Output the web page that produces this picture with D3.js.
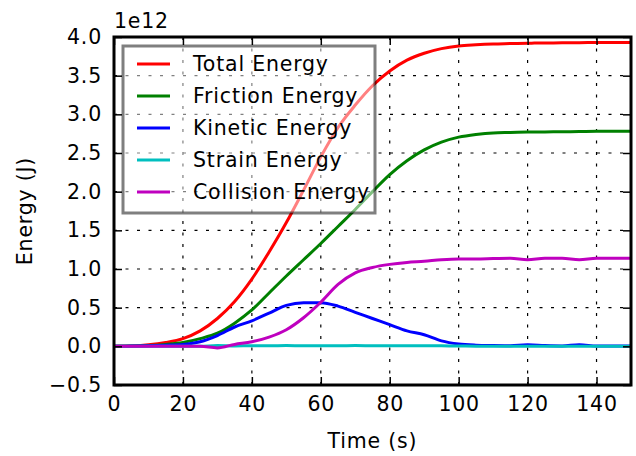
<!DOCTYPE html>
<html>
<head>
<meta charset="utf-8">
<script src="https://cdn.jsdelivr.net/npm/d3@7"></script>
<style>
  body { margin: 0; background: #fff; }
  svg { font-family: "DejaVu Sans", sans-serif; }
  .lbl { font-size: 20.5px; letter-spacing: 0.8px; }
</style>
</head>
<body>
<div id="chart-area"></div>
<script>
// dados (energia em 1e12 J)
const time = [0, 5, 10, 15, 20, 25, 30, 35, 40, 45, 50, 55, 60, 65, 70, 75, 80, 85, 90, 95, 100, 105, 110, 115, 120, 125, 130, 135, 140, 145, 150]
const totalEnergy = [0, 0.005, 0.02, 0.05, 0.1, 0.2, 0.36, 0.58, 0.87, 1.22, 1.6, 2.02, 2.45, 2.83, 3.12, 3.37, 3.56, 3.7, 3.79, 3.85, 3.885, 3.9, 3.91, 3.915, 3.92, 3.922, 3.925, 3.927, 3.928, 3.93, 3.93]
const frictionEnergy = [0, 0.003, 0.01, 0.025, 0.05, 0.1, 0.17, 0.3, 0.47, 0.69, 0.91, 1.12, 1.33, 1.55, 1.77, 2.0, 2.22, 2.4, 2.54, 2.64, 2.705, 2.74, 2.76, 2.765, 2.77, 2.772, 2.775, 2.777, 2.78, 2.78, 2.78]
const kineticEnergy = [0, 0.003, 0.008, 0.015, 0.025, 0.06, 0.14, 0.25, 0.33, 0.43, 0.53, 0.565, 0.565, 0.52, 0.44, 0.36, 0.28, 0.2, 0.15, 0.07, 0.03, 0.015, 0.01, 0.008, 0.02, 0.01, 0.005, 0.02, 0.005, 0.003, 0.003]
const strainEnergy = [0, 0, 0, 0, 0, 0, 0.01, 0.005, 0.008, 0.006, 0.01, 0.006, 0.009, 0.007, 0.01, 0.008, 0.006, 0.009, 0.007, 0.006, 0.004, 0.002, 0.002, 0.002, 0.002, 0.002, 0.002, 0.002, 0.002, 0.002, 0.002]
const collisionEnergy = [0, 0, 0, 0, 0, 0, -0.02, 0.025, 0.06, 0.12, 0.215, 0.37, 0.57, 0.8, 0.95, 1.02, 1.06, 1.085, 1.1, 1.12, 1.13, 1.13, 1.135, 1.14, 1.12, 1.14, 1.14, 1.12, 1.14, 1.14, 1.14]

const seriesNames = ["Total Energy", "Friction Energy", "Kinetic Energy", "Strain Energy", "Collision Energy"]
const seriesValues = [totalEnergy, frictionEnergy, kineticEnergy, strainEnergy, collisionEnergy]
const seriesColors = ["#ff0000", "#008000", "#0000ff", "#00bfbf", "#bf00bf"]

const xTicks = [0, 20, 40, 60, 80, 100, 120, 140]
const yTicks = [-0.5, 0, 0.5, 1.0, 1.5, 2.0, 2.5, 3.0, 3.5, 4.0]

const W = 636, H = 456
const MARGIN = { LEFT: 114, RIGHT: 5, TOP: 37, BOTTOM: 71 }
const WIDTH = W - MARGIN.LEFT - MARGIN.RIGHT
const HEIGHT = H - MARGIN.TOP - MARGIN.BOTTOM

const svg = d3.select("#chart-area").append("svg")
  .attr("width", W)
  .attr("height", H)

const g = svg.append("g")
  .attr("transform", `translate(${MARGIN.LEFT}, ${MARGIN.TOP})`)

const x = d3.scaleLinear().domain([0, 150]).range([0, WIDTH])
const y = d3.scaleLinear().domain([-0.5, 4.0]).range([HEIGHT, 0])

// grade pontilhada
g.append("g").selectAll("line").data(xTicks.slice(1)).enter().append("line")
  .attr("x1", d => x(d)).attr("x2", d => x(d))
  .attr("y1", 0).attr("y2", HEIGHT)
  .attr("stroke", "#000").attr("stroke-width", 1.2).attr("stroke-dasharray", "3,8.5")
g.append("g").selectAll("line").data(yTicks.slice(1, -1)).enter().append("line")
  .attr("y1", d => y(d)).attr("y2", d => y(d))
  .attr("x1", 0).attr("x2", WIDTH)
  .attr("stroke", "#000").attr("stroke-width", 1.2).attr("stroke-dasharray", "3,8.5")

// linhas
const line = d3.line()
  .x((d, i) => x(time[i]))
  .y(d => y(d))
  .curve(d3.curveMonotoneX)

seriesValues.forEach((vals, k) => {
  g.append("path")
    .datum(vals)
    .attr("fill", "none")
    .attr("stroke", seriesColors[k])
    .attr("stroke-width", 3)
    .attr("stroke-linejoin", "round")
    .attr("d", line)
})

// eixos com ticks para dentro
const fmt = d3.format(".1f")
const xAxis = g.append("g")
  .attr("transform", `translate(0, ${HEIGHT})`)
  .call(d3.axisBottom(x).tickValues(xTicks).tickSize(-8).tickPadding(11).tickFormat(d3.format("d")))
const yAxis = g.append("g")
  .call(d3.axisLeft(y).tickValues(yTicks).tickSize(-8).tickPadding(12).tickFormat(fmt))
const xTop = g.append("g")
  .call(d3.axisTop(x).tickValues(xTicks).tickSize(-8).tickFormat(""))
const yRight = g.append("g")
  .attr("transform", `translate(${WIDTH}, 0)`)
  .call(d3.axisRight(y).tickValues(yTicks).tickSize(-8).tickFormat(""))

;[xAxis, yAxis, xTop, yRight].forEach(a => {
  a.select(".domain").remove()
  a.selectAll(".tick line").attr("stroke", "#000").attr("stroke-width", 1.5)
  a.selectAll("text").attr("class", "lbl").attr("font-size", null).attr("fill", "#000")
    .attr("font-family", "DejaVu Sans, sans-serif")
})

// moldura
g.append("rect")
  .attr("width", WIDTH).attr("height", HEIGHT)
  .attr("fill", "none").attr("stroke", "#000").attr("stroke-width", 3)

// 1e12
g.append("text")
  .attr("class", "lbl")
  .attr("x", 0).attr("y", -9)
  .text("1e12")

// X label
g.append("text")
  .attr("class", "lbl")
  .attr("x", WIDTH / 2)
  .attr("y", HEIGHT + 63)
  .attr("text-anchor", "middle")
  .text("Time (s)")

// Y label
g.append("text")
  .attr("class", "lbl")
  .attr("x", -(HEIGHT / 2))
  .attr("y", -82)
  .attr("text-anchor", "middle")
  .attr("transform", "rotate(-90)")
  .text("Energy (J)")

// legenda
const leg = g.append("g").attr("transform", "translate(9, 9)")
leg.append("rect")
  .attr("width", 252).attr("height", 167)
  .attr("fill", "#fff").attr("fill-opacity", 0.5)
  .attr("stroke", "#000").attr("stroke-opacity", 0.5).attr("stroke-width", 3)
seriesNames.forEach((name, k) => {
  const yy = 18 + k * 32
  leg.append("line")
    .attr("x1", 14).attr("x2", 47).attr("y1", yy).attr("y2", yy)
    .attr("stroke", seriesColors[k]).attr("stroke-width", 3)
  leg.append("text")
    .attr("class", "lbl")
    .attr("x", 70).attr("y", yy).attr("dy", "0.35em")
    .text(name)
})
</script>
</body>
</html>
